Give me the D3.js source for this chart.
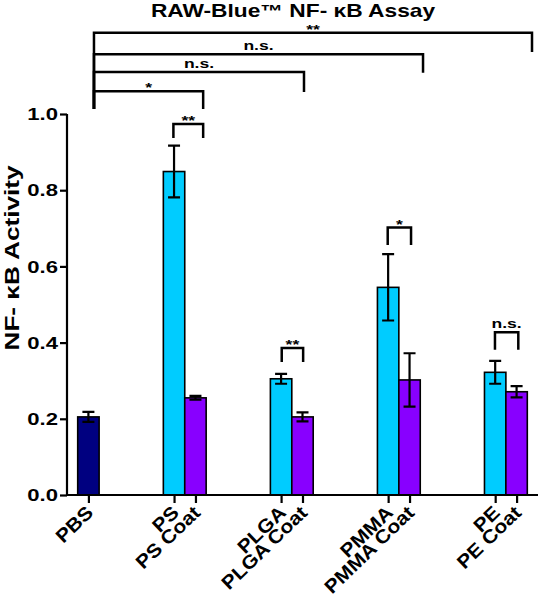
<!DOCTYPE html>
<html>
<head>
<meta charset="utf-8">
<script src="https://cdn.jsdelivr.net/npm/d3@7"></script>
<style>
  html, body { margin: 0; padding: 0; background: #fff; }
  svg { display: block; }
  text { font-family: "Liberation Sans", Arial, sans-serif; font-weight: bold; fill: #000; }
</style>
</head>
<body>
<svg id="chart" width="539" height="600"></svg>
<script>
// ---------- data ----------
const categories = ["PBS", "PS", "PS Coat", "PLGA", "PLGA Coat", "PMMA", "PMMA Coat", "PE", "PE Coat"];
const slots      = [0, 4, 5, 9, 10, 14, 15, 19, 20];            // band slot of each bar
const values     = [0.205, 0.849, 0.255, 0.305, 0.205, 0.545, 0.302, 0.322, 0.271];
const errors     = [0.013, 0.068, 0.005, 0.013, 0.012, 0.087, 0.070, 0.030, 0.015];
const barKind    = ["pbs", "plain", "coat", "plain", "coat", "plain", "coat", "plain", "coat"];
const yTicks     = [0, 0.2, 0.4, 0.6, 0.8, 1.0];
const title      = "RAW-Blue\u2122 NF- \u03BAB  Assay";
const yLabel     = "NF- \u03BAB Activity";

// significance brackets (x in slot units, y in data units)
const bracketFrom   = [0.26, 0.26, 0.26, 0.26, 3.97, 9.03, 13.98, 18.99];
const bracketTo     = [20.72, 15.63, 10.07, 5.36, 5.36, 10.03, 15.07, 20.08];
const bracketTop    = [1.213, 1.157, 1.110, 1.060, 0.974, 0.386, 0.702, 0.427];
const bracketLeftB  = [1.013, 1.013, 1.013, 1.013, 0.937, 0.349, 0.656, 0.381];
const bracketRightB = [1.163, 1.108, 1.058, 1.013, 0.937, 0.349, 0.656, 0.381];
const bracketLabel  = ["**", "n.s.", "n.s.", "*", "**", "**", "*", "n.s."];

// ---------- layout ----------
const svg = d3.select("#chart");
const colors = { pbs: "#000080", plain: "#00ccff", coat: "#8800ff" };
const SX = 1.3; // horizontal stretch of the original picture

const x = d3.scaleLinear().domain([-1, 21]).range([67, 538]);
const y = d3.scaleLinear().domain([0, 1]).range([495, 114]);
const bw = x(1) - x(0);

function stext(g, px, py, txt, size, anchor, rot, sAlong, sCross, dy) {
  return g.append("text")
    .attr("transform", `translate(${px},${py}) rotate(${rot}) scale(${sAlong},${sCross})`)
    .attr("text-anchor", anchor)
    .attr("dy", dy || 0)
    .style("font-size", size + "px")
    .text(txt);
}

// bars
const bars = svg.append("g");
bars.selectAll("rect").data(values).join("rect")
  .attr("x", (d, i) => x(slots[i]) - bw / 2)
  .attr("y", d => y(d))
  .attr("width", bw)
  .attr("height", d => y(0) - y(d))
  .attr("fill", (d, i) => colors[barKind[i]])
  .attr("stroke", "#000")
  .attr("stroke-width", 1.6);

// error bars
const eb = svg.append("g").attr("stroke", "#000").attr("stroke-width", 2.2).attr("fill", "none");
values.forEach((v, i) => {
  const cx = x(slots[i]);
  eb.append("path").attr("d",
    `M${cx},${y(v - errors[i])}V${y(v + errors[i])}` +
    `M${cx - 6},${y(v + errors[i])}H${cx + 6}` +
    `M${cx - 6},${y(v - errors[i])}H${cx + 6}`);
});

// y axis
const yAxis = d3.axisLeft(y).tickValues(yTicks).tickFormat(d3.format(".1f")).tickSize(7).tickPadding(3);
const gy = svg.append("g").attr("transform", "translate(67,0)").call(yAxis);
gy.select(".domain").attr("stroke-width", 2.2).attr("d", `M0,${y(1)}V${y(0)}`);
gy.selectAll(".tick line").attr("stroke-width", 2.2);
gy.selectAll(".tick text").remove();
yTicks.forEach(t => {
  stext(svg, 58, y(t), d3.format(".1f")(t), 17, "end", 0, SX, 1, "0.36em");
});

// x axis
const xAxis = d3.axisBottom(x).tickValues(slots).tickSize(8).tickFormat("");
const gx = svg.append("g").attr("transform", `translate(0,${y(0)})`).call(xAxis);
gx.select(".domain").attr("stroke-width", 2.2).attr("d", `M${x(-1)},0H${x(21)}`);
gx.selectAll(".tick line").attr("stroke-width", 2.2);
categories.forEach((c, i) => {
  stext(svg, x(slots[i]) + 6, 514, c, 17, "end", -44, 1.24, 1.12, 0);
});

// brackets
const br = svg.append("g").attr("stroke", "#000").attr("stroke-width", 2.5).attr("fill", "none");
bracketLabel.forEach((lab, i) => {
  const x1 = x(bracketFrom[i]), x2 = x(bracketTo[i]);
  br.append("path").attr("d",
    `M${x1},${y(bracketLeftB[i])}V${y(bracketTop[i])}H${x2}V${y(bracketRightB[i])}`);
  const isStar = lab.indexOf("*") >= 0;
  stext(svg, (x1 + x2) / 2, y(bracketTop[i]) - (isStar ? -1 : 4), lab, 13.5, "middle", 0, SX, 1, 0);
});

// title
stext(svg, 293, 17, title, 17.5, "middle", 0, SX, 1, 0);

// y label
svg.append("text")
  .attr("transform", `translate(12,258) rotate(-90) scale(1,1.3)`)
  .attr("text-anchor", "middle")
  .attr("dy", "0.36em")
  .attr("textLength", 185)
  .attr("lengthAdjust", "spacingAndGlyphs")
  .style("font-size", "15.5px")
  .text(yLabel);
</script>
</body>
</html>
